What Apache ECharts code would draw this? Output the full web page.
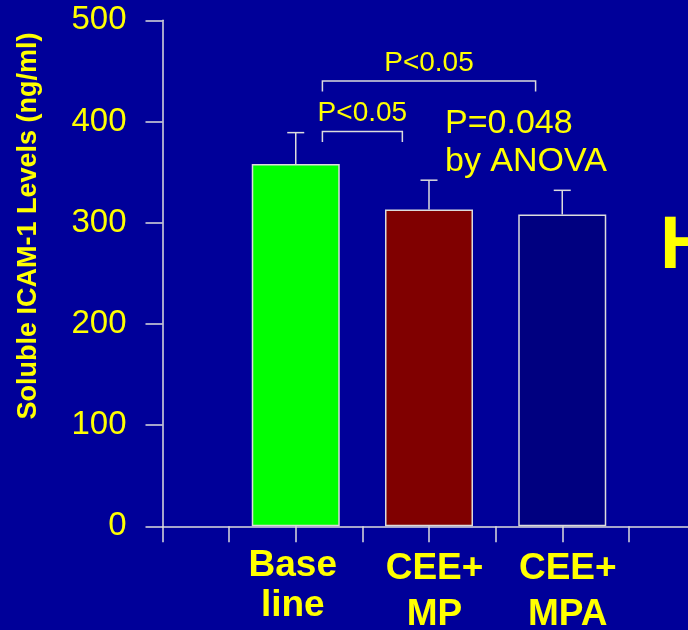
<!DOCTYPE html>
<html>
<head>
<meta charset="utf-8">
<script src="https://cdn.jsdelivr.net/npm/echarts@6/dist/echarts.min.js"></script>
<style>
  html, body { margin: 0; padding: 0; background: #000099; }
  #chart { width: 688px; height: 630px; }
</style>
</head>
<body>
<div id="chart"></div>
<script>
// Soluble ICAM-1 levels by treatment group (mean and upper SE)
const categories = ['Base\nline', 'CEE+\nMP', 'CEE+\nMPA'];
const meanLevels = [358, 313, 308];
const upperErrors = [389, 342, 332];
const yTickValues = [0, 100, 200, 300, 400, 500];
const barColors = ['#00ff00', '#800000', '#000080'];
// pairwise comparisons (indices into categories)
const comparisons = [
  { from: 0, to: 1, label: 'P<0.05' },
  { from: 0, to: 2, label: 'P<0.05' }
];
const anovaNote = ['P=0.048', 'by ANOVA'];

const YELLOW = '#ffff00';
const LINE = '#dcdcdc';
const FONT = '"Liberation Sans", Arial, Helvetica, sans-serif';

// each group sits on every other slot of the category axis
const slotOf = i => 2 + 2 * i;
const slots = new Array(9).fill('');
categories.forEach((c, i) => { slots[slotOf(i)] = c; });

const barData = slots.map(() => '-');
meanLevels.forEach((v, i) => {
  barData[slotOf(i)] = { value: v, itemStyle: { color: barColors[i] } };
});

const errorData = meanLevels.map((m, i) => [slotOf(i), m, upperErrors[i]]);
const bracketData = comparisons.map((c, k) => [slotOf(c.from), slotOf(c.to), k]);

const chart = echarts.init(document.getElementById('chart'), null, { renderer: 'canvas' });

const labelFont = { fontSize: 37, fontWeight: 'bold', color: YELLOW, fontFamily: FONT };

chart.setOption({
  backgroundColor: '#000099',
  animation: false,
  grid: {
    left: 162.5, right: -7.5, top: 20.3, bottom: 103.7,
    containLabel: false, outerBoundsMode: 'none'
  },
  xAxis: {
    type: 'category',
    data: slots,
    boundaryGap: false,
    axisLine: { show: true, lineStyle: { color: LINE, width: 1.5 } },
    axisTick: { show: true, interval: 0, length: 16, lineStyle: { color: LINE, width: 1.5 } },
    axisLabel: {
      interval: 0,
      margin: 19,
      hideOverlap: false,
      formatter: (value, index) => {
        if (!value) return '';
        const style = index === slotOf(0) ? 'base' : 'cee';
        return value.split('\n').map(s => '{' + style + '|' + s + '}').join('\n');
      },
      rich: {
        base: Object.assign({ lineHeight: 40, padding: [0, 6, 0, 0] }, labelFont),
        cee: Object.assign({ lineHeight: 46, padding: [0, 0, 0, 11] }, labelFont)
      }
    },
    splitLine: { show: false }
  },
  yAxis: {
    type: 'value',
    min: yTickValues[0],
    max: yTickValues[yTickValues.length - 1],
    interval: yTickValues[1] - yTickValues[0],
    axisLine: { show: true, lineStyle: { color: LINE, width: 1.5 } },
    axisTick: { show: true, length: 17, lineStyle: { color: LINE, width: 1.5 } },
    axisLabel: { color: YELLOW, fontSize: 33, fontFamily: FONT, margin: 36 },
    splitLine: { show: false }
  },
  series: [
    {
      type: 'bar',
      data: barData,
      barWidth: 88,
      itemStyle: { borderColor: LINE, borderWidth: 1.5 },
      z: 2
    },
    {
      // upward error bars
      type: 'custom',
      data: errorData,
      encode: { x: 0, y: [1, 2] },
      z: 3,
      renderItem: (params, api) => {
        const x = api.value(0);
        const base = api.coord([x, api.value(1)]);
        const top = api.coord([x, api.value(2)]);
        const half = 8.5;
        const style = { stroke: LINE, lineWidth: 1.5, fill: null };
        return {
          type: 'group',
          children: [
            { type: 'line', shape: { x1: base[0], y1: base[1], x2: top[0], y2: top[1] }, style },
            { type: 'line', shape: { x1: top[0] - half, y1: top[1], x2: top[0] + half, y2: top[1] }, style }
          ]
        };
      }
    },
    {
      // significance brackets with labels
      type: 'custom',
      data: bracketData,
      encode: { x: [0, 1] },
      z: 3,
      renderItem: (params, api) => {
        const level = 390 + 50 * api.value(2);
        const a = api.coord([api.value(0), level]);
        const b = api.coord([api.value(1), level]);
        const step = api.coord([api.value(0) + 1, level])[0] - a[0];
        const x0 = a[0] + 0.4 * step;
        const x1 = b[0] - 0.4 * step;
        const y = a[1];
        const drop = 10.5;
        return {
          type: 'group',
          children: [
            {
              type: 'polyline',
              shape: { points: [[x0, y + drop], [x0, y], [x1, y], [x1, y + drop]] },
              style: { stroke: LINE, lineWidth: 1.5, fill: null }
            },
            {
              type: 'text',
              style: {
                text: comparisons[params.dataIndex].label,
                x: (x0 + x1) / 2, y: y - 18,
                align: 'center', verticalAlign: 'middle',
                fill: YELLOW, fontSize: 28, fontFamily: FONT
              }
            }
          ]
        };
      }
    }
  ],
  graphic: [
    {
      type: 'text',
      x: 28.5, y: 226,
      rotation: Math.PI / 2,
      style: {
        text: 'Soluble ICAM-1 Levels (ng/ml)',
        fill: YELLOW, fontSize: 27, fontWeight: 'bold', fontFamily: FONT,
        align: 'center', verticalAlign: 'middle',
        textAlign: 'center', textVerticalAlign: 'middle'
      }
    },
    {
      type: 'text',
      x: 445, y: 124,
      style: {
        text: anovaNote[0], fill: YELLOW, fontSize: 34, fontFamily: FONT,
        align: 'left', verticalAlign: 'middle', textAlign: 'left', textVerticalAlign: 'middle'
      }
    },
    {
      type: 'text',
      x: 445, y: 162,
      style: {
        text: anovaNote[1], fill: YELLOW, fontSize: 34, fontFamily: FONT,
        align: 'left', verticalAlign: 'middle', textAlign: 'left', textVerticalAlign: 'middle'
      }
    },
    {
      type: 'text',
      x: 660, y: 248,
      style: {
        text: 'H', fill: YELLOW, fontSize: 74, fontWeight: 'bold', fontFamily: FONT,
        align: 'left', verticalAlign: 'middle', textAlign: 'left', textVerticalAlign: 'middle'
      }
    }
  ]
});
</script>
</body>
</html>
